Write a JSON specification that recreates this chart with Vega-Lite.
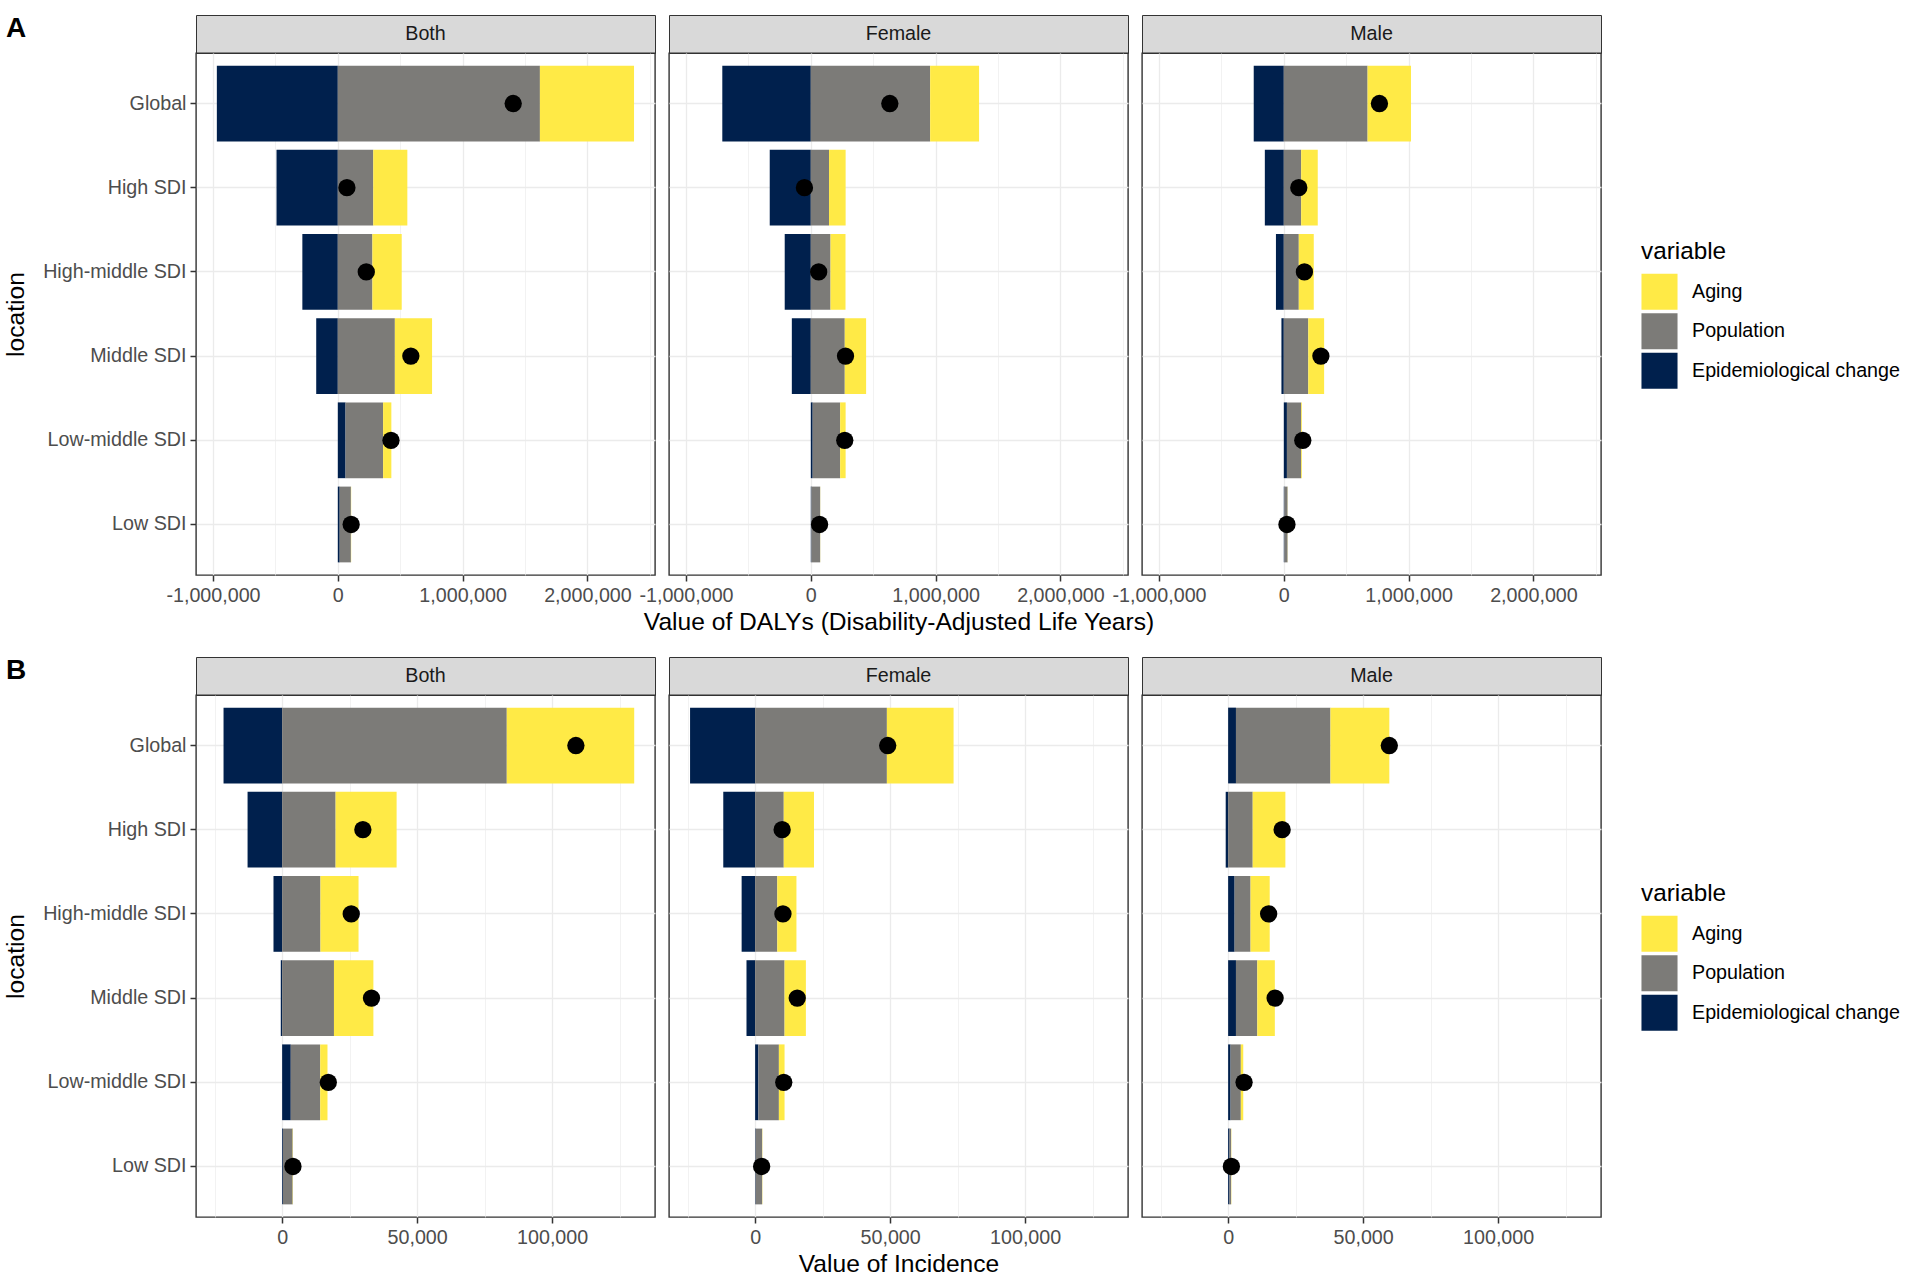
{
  "$schema": "https://vega.github.io/schema/vega-lite/v6.json",
  "padding": {"left": 2, "top": 14, "right": 0, "bottom": 0},
  "background": "white",
  "datasets": {
    "strips": [{"sex": "Both"}, {"sex": "Female"}, {"sex": "Male"}],
    "levels": [
      {"variable": "Epidemiological change", "level": 1},
      {"variable": "Population", "level": 2},
      {"variable": "Aging", "level": 3}
    ],
    "dalys": [
      {"sex": "Both", "location": "Global", "variable": "Epidemiological change", "value": -969000},
      {"sex": "Both", "location": "Global", "variable": "Population", "value": 1619000},
      {"sex": "Both", "location": "Global", "variable": "Aging", "value": 754000},
      {"sex": "Both", "location": "High SDI", "variable": "Epidemiological change", "value": -491000},
      {"sex": "Both", "location": "High SDI", "variable": "Population", "value": 284000},
      {"sex": "Both", "location": "High SDI", "variable": "Aging", "value": 273000},
      {"sex": "Both", "location": "High-middle SDI", "variable": "Epidemiological change", "value": -284000},
      {"sex": "Both", "location": "High-middle SDI", "variable": "Population", "value": 277000},
      {"sex": "Both", "location": "High-middle SDI", "variable": "Aging", "value": 235000},
      {"sex": "Both", "location": "Middle SDI", "variable": "Epidemiological change", "value": -173000},
      {"sex": "Both", "location": "Middle SDI", "variable": "Population", "value": 457000},
      {"sex": "Both", "location": "Middle SDI", "variable": "Aging", "value": 298000},
      {"sex": "Both", "location": "Low-middle SDI", "variable": "Epidemiological change", "value": 62000},
      {"sex": "Both", "location": "Low-middle SDI", "variable": "Population", "value": 301000},
      {"sex": "Both", "location": "Low-middle SDI", "variable": "Aging", "value": 66000},
      {"sex": "Both", "location": "Low SDI", "variable": "Epidemiological change", "value": 15000},
      {"sex": "Both", "location": "Low SDI", "variable": "Population", "value": 90000},
      {"sex": "Both", "location": "Low SDI", "variable": "Aging", "value": 2000},
      {"sex": "Female", "location": "Global", "variable": "Epidemiological change", "value": -709000},
      {"sex": "Female", "location": "Global", "variable": "Population", "value": 956000},
      {"sex": "Female", "location": "Global", "variable": "Aging", "value": 392000},
      {"sex": "Female", "location": "High SDI", "variable": "Epidemiological change", "value": -329000},
      {"sex": "Female", "location": "High SDI", "variable": "Population", "value": 146000},
      {"sex": "Female", "location": "High SDI", "variable": "Aging", "value": 133000},
      {"sex": "Female", "location": "High-middle SDI", "variable": "Epidemiological change", "value": -209000},
      {"sex": "Female", "location": "High-middle SDI", "variable": "Population", "value": 158000},
      {"sex": "Female", "location": "High-middle SDI", "variable": "Aging", "value": 120000},
      {"sex": "Female", "location": "Middle SDI", "variable": "Epidemiological change", "value": -152000},
      {"sex": "Female", "location": "Middle SDI", "variable": "Population", "value": 272000},
      {"sex": "Female", "location": "Middle SDI", "variable": "Aging", "value": 171000},
      {"sex": "Female", "location": "Low-middle SDI", "variable": "Epidemiological change", "value": 15000},
      {"sex": "Female", "location": "Low-middle SDI", "variable": "Population", "value": 220000},
      {"sex": "Female", "location": "Low-middle SDI", "variable": "Aging", "value": 44000},
      {"sex": "Female", "location": "Low SDI", "variable": "Epidemiological change", "value": 5000},
      {"sex": "Female", "location": "Low SDI", "variable": "Population", "value": 70000},
      {"sex": "Female", "location": "Low SDI", "variable": "Aging", "value": 1000},
      {"sex": "Male", "location": "Global", "variable": "Epidemiological change", "value": -241000},
      {"sex": "Male", "location": "Global", "variable": "Population", "value": 671000},
      {"sex": "Male", "location": "Global", "variable": "Aging", "value": 348000},
      {"sex": "Male", "location": "High SDI", "variable": "Epidemiological change", "value": -152000},
      {"sex": "Male", "location": "High SDI", "variable": "Population", "value": 139000},
      {"sex": "Male", "location": "High SDI", "variable": "Aging", "value": 133000},
      {"sex": "Male", "location": "High-middle SDI", "variable": "Epidemiological change", "value": -63000},
      {"sex": "Male", "location": "High-middle SDI", "variable": "Population", "value": 120000},
      {"sex": "Male", "location": "High-middle SDI", "variable": "Aging", "value": 120000},
      {"sex": "Male", "location": "Middle SDI", "variable": "Epidemiological change", "value": -19000},
      {"sex": "Male", "location": "Middle SDI", "variable": "Population", "value": 196000},
      {"sex": "Male", "location": "Middle SDI", "variable": "Aging", "value": 127000},
      {"sex": "Male", "location": "Low-middle SDI", "variable": "Epidemiological change", "value": 25000},
      {"sex": "Male", "location": "Low-middle SDI", "variable": "Population", "value": 114000},
      {"sex": "Male", "location": "Low-middle SDI", "variable": "Aging", "value": 6000},
      {"sex": "Male", "location": "Low SDI", "variable": "Epidemiological change", "value": 5000},
      {"sex": "Male", "location": "Low SDI", "variable": "Population", "value": 25000},
      {"sex": "Male", "location": "Low SDI", "variable": "Aging", "value": 1000}
    ],
    "dalys_total": [
      {"sex": "Both", "location": "Global", "total": 1405000},
      {"sex": "Both", "location": "High SDI", "total": 73000},
      {"sex": "Both", "location": "High-middle SDI", "total": 228000},
      {"sex": "Both", "location": "Middle SDI", "total": 585000},
      {"sex": "Both", "location": "Low-middle SDI", "total": 426000},
      {"sex": "Both", "location": "Low SDI", "total": 107000},
      {"sex": "Female", "location": "Global", "total": 633000},
      {"sex": "Female", "location": "High SDI", "total": -51000},
      {"sex": "Female", "location": "High-middle SDI", "total": 63000},
      {"sex": "Female", "location": "Middle SDI", "total": 278000},
      {"sex": "Female", "location": "Low-middle SDI", "total": 272000},
      {"sex": "Female", "location": "Low SDI", "total": 70000},
      {"sex": "Male", "location": "Global", "total": 766000},
      {"sex": "Male", "location": "High SDI", "total": 120000},
      {"sex": "Male", "location": "High-middle SDI", "total": 165000},
      {"sex": "Male", "location": "Middle SDI", "total": 297000},
      {"sex": "Male", "location": "Low-middle SDI", "total": 152000},
      {"sex": "Male", "location": "Low SDI", "total": 25000}
    ],
    "inc": [
      {"sex": "Both", "location": "Global", "variable": "Epidemiological change", "value": -21700},
      {"sex": "Both", "location": "Global", "variable": "Population", "value": 83200},
      {"sex": "Both", "location": "Global", "variable": "Aging", "value": 47200},
      {"sex": "Both", "location": "High SDI", "variable": "Epidemiological change", "value": -12800},
      {"sex": "Both", "location": "High SDI", "variable": "Population", "value": 19800},
      {"sex": "Both", "location": "High SDI", "variable": "Aging", "value": 22600},
      {"sex": "Both", "location": "High-middle SDI", "variable": "Epidemiological change", "value": -3200},
      {"sex": "Both", "location": "High-middle SDI", "variable": "Population", "value": 14200},
      {"sex": "Both", "location": "High-middle SDI", "variable": "Aging", "value": 14100},
      {"sex": "Both", "location": "Middle SDI", "variable": "Epidemiological change", "value": -500},
      {"sex": "Both", "location": "Middle SDI", "variable": "Population", "value": 19200},
      {"sex": "Both", "location": "Middle SDI", "variable": "Aging", "value": 14600},
      {"sex": "Both", "location": "Low-middle SDI", "variable": "Epidemiological change", "value": 3200},
      {"sex": "Both", "location": "Low-middle SDI", "variable": "Population", "value": 10900},
      {"sex": "Both", "location": "Low-middle SDI", "variable": "Aging", "value": 2700},
      {"sex": "Both", "location": "Low SDI", "variable": "Epidemiological change", "value": 300},
      {"sex": "Both", "location": "Low SDI", "variable": "Population", "value": 3600},
      {"sex": "Both", "location": "Low SDI", "variable": "Aging", "value": 100},
      {"sex": "Female", "location": "Global", "variable": "Epidemiological change", "value": -24100},
      {"sex": "Female", "location": "Global", "variable": "Population", "value": 48800},
      {"sex": "Female", "location": "Global", "variable": "Aging", "value": 24700},
      {"sex": "Female", "location": "High SDI", "variable": "Epidemiological change", "value": -11800},
      {"sex": "Female", "location": "High SDI", "variable": "Population", "value": 10600},
      {"sex": "Female", "location": "High SDI", "variable": "Aging", "value": 11200},
      {"sex": "Female", "location": "High-middle SDI", "variable": "Epidemiological change", "value": -5000},
      {"sex": "Female", "location": "High-middle SDI", "variable": "Population", "value": 8200},
      {"sex": "Female", "location": "High-middle SDI", "variable": "Aging", "value": 7100},
      {"sex": "Female", "location": "Middle SDI", "variable": "Epidemiological change", "value": -3200},
      {"sex": "Female", "location": "Middle SDI", "variable": "Population", "value": 10900},
      {"sex": "Female", "location": "Middle SDI", "variable": "Aging", "value": 7900},
      {"sex": "Female", "location": "Low-middle SDI", "variable": "Epidemiological change", "value": 1200},
      {"sex": "Female", "location": "Low-middle SDI", "variable": "Population", "value": 7600},
      {"sex": "Female", "location": "Low-middle SDI", "variable": "Aging", "value": 2100},
      {"sex": "Female", "location": "Low SDI", "variable": "Epidemiological change", "value": 200},
      {"sex": "Female", "location": "Low SDI", "variable": "Population", "value": 2400},
      {"sex": "Female", "location": "Low SDI", "variable": "Aging", "value": 100},
      {"sex": "Male", "location": "Global", "variable": "Epidemiological change", "value": 2900},
      {"sex": "Male", "location": "Global", "variable": "Population", "value": 35000},
      {"sex": "Male", "location": "Global", "variable": "Aging", "value": 21800},
      {"sex": "Male", "location": "High SDI", "variable": "Epidemiological change", "value": -900},
      {"sex": "Male", "location": "High SDI", "variable": "Population", "value": 9100},
      {"sex": "Male", "location": "High SDI", "variable": "Aging", "value": 12100},
      {"sex": "Male", "location": "High-middle SDI", "variable": "Epidemiological change", "value": 2400},
      {"sex": "Male", "location": "High-middle SDI", "variable": "Population", "value": 5900},
      {"sex": "Male", "location": "High-middle SDI", "variable": "Aging", "value": 7100},
      {"sex": "Male", "location": "Middle SDI", "variable": "Epidemiological change", "value": 2900},
      {"sex": "Male", "location": "Middle SDI", "variable": "Population", "value": 7900},
      {"sex": "Male", "location": "Middle SDI", "variable": "Aging", "value": 6500},
      {"sex": "Male", "location": "Low-middle SDI", "variable": "Epidemiological change", "value": 900},
      {"sex": "Male", "location": "Low-middle SDI", "variable": "Population", "value": 3800},
      {"sex": "Male", "location": "Low-middle SDI", "variable": "Aging", "value": 900},
      {"sex": "Male", "location": "Low SDI", "variable": "Epidemiological change", "value": 500},
      {"sex": "Male", "location": "Low SDI", "variable": "Population", "value": 600},
      {"sex": "Male", "location": "Low SDI", "variable": "Aging", "value": 100}
    ],
    "inc_total": [
      {"sex": "Both", "location": "Global", "total": 108800},
      {"sex": "Both", "location": "High SDI", "total": 29900},
      {"sex": "Both", "location": "High-middle SDI", "total": 25600},
      {"sex": "Both", "location": "Middle SDI", "total": 33100},
      {"sex": "Both", "location": "Low-middle SDI", "total": 17100},
      {"sex": "Both", "location": "Low SDI", "total": 4000},
      {"sex": "Female", "location": "Global", "total": 49100},
      {"sex": "Female", "location": "High SDI", "total": 10000},
      {"sex": "Female", "location": "High-middle SDI", "total": 10300},
      {"sex": "Female", "location": "Middle SDI", "total": 15600},
      {"sex": "Female", "location": "Low-middle SDI", "total": 10600},
      {"sex": "Female", "location": "Low SDI", "total": 2400},
      {"sex": "Male", "location": "Global", "total": 59700},
      {"sex": "Male", "location": "High SDI", "total": 20000},
      {"sex": "Male", "location": "High-middle SDI", "total": 15000},
      {"sex": "Male", "location": "Middle SDI", "total": 17400},
      {"sex": "Male", "location": "Low-middle SDI", "total": 5900},
      {"sex": "Male", "location": "Low SDI", "total": 1200}
    ]
  },
  "spacing": 21,
  "resolve": {"scale": {"x": "independent", "y": "independent", "color": "independent"}},
  "vconcat": [
    {
      "title": {"text": "A", "anchor": "start", "frame": "bounds", "fontSize": 28, "fontWeight": "bold", "color": "#000000", "offset": -28, "dx": 3},
      "columns": 3,
      "spacing": {"row": 0, "column": 14},
      "bounds": "flush",
      "resolve": {"scale": {"color": "independent"}},
      "concat": [
        {"width": 459, "height": 38, "view": {"fill": "#D9D9D9", "stroke": "#333333"}, "data": {"name": "strips"}, "transform": [{"filter": "datum.sex === 'Both'"}], "mark": {"type": "text", "fontSize": 19.7, "color": "#1A1A1A"}, "encoding": {"text": {"field": "sex", "type": "nominal"}}},
        {"width": 459, "height": 38, "view": {"fill": "#D9D9D9", "stroke": "#333333"}, "data": {"name": "strips"}, "transform": [{"filter": "datum.sex === 'Female'"}], "mark": {"type": "text", "fontSize": 19.7, "color": "#1A1A1A"}, "encoding": {"text": {"field": "sex", "type": "nominal"}}},
        {"width": 459, "height": 38, "view": {"fill": "#D9D9D9", "stroke": "#333333"}, "data": {"name": "strips"}, "transform": [{"filter": "datum.sex === 'Male'"}], "mark": {"type": "text", "fontSize": 19.7, "color": "#1A1A1A"}, "encoding": {"text": {"field": "sex", "type": "nominal"}}},
        {
          "width": 459, "height": 522,
          "encoding": {"y": {"field": "location", "type": "nominal", "sort": ["Global", "High SDI", "High-middle SDI", "Middle SDI", "Low-middle SDI", "Low SDI"], "scale": {"paddingInner": 0.1, "paddingOuter": 0.15}, "axis": {"title": "location", "titlePadding": 14, "labelPadding": 4, "tickSize": 6, "grid": true, "bandPosition": 0.5}}},
          "layer": [
            {"data": {"name": "dalys"}, "transform": [{"filter": "datum.sex === 'Both'"}, {"lookup": "variable", "from": {"data": {"name": "levels"}, "key": "variable", "fields": ["level"]}}], "mark": {"type": "bar"},
              "encoding": {
                "x": {"field": "value", "type": "quantitative", "scale": {"domain": [-1136000, 2541000], "nice": false, "zero": false}, "axis": {"values": [-1000000, 0, 1000000, 2000000], "format": ",d", "labelExpr": "replace(datum.label, '−', '-')", "title": null, "grid": true, "labelFlush": false, "labelOverlap": false}},
                "color": {"field": "variable", "type": "nominal", "sort": ["Aging", "Population", "Epidemiological change"], "scale": {"domain": ["Aging", "Population", "Epidemiological change"], "range": ["#FFEA46", "#7C7B78", "#00204D"]}, "legend": null},
                "order": {"field": "level", "type": "quantitative", "sort": "ascending"}
              }},
            {"data": {"name": "dalys_total"}, "transform": [{"filter": "datum.sex === 'Both'"}], "mark": {"type": "circle", "size": 300, "color": "#000000", "opacity": 1},
              "encoding": {"x": {"field": "total", "type": "quantitative", "axis": {"orient": "top", "values": [-500000, 500000, 1500000, 2500000], "labels": false, "ticks": false, "grid": true, "gridWidth": 0.65, "title": null}}}}
          ],
          "resolve": {"axis": {"x": "independent"}}
        },
        {
          "width": 459, "height": 522,
          "encoding": {"y": {"field": "location", "type": "nominal", "sort": ["Global", "High SDI", "High-middle SDI", "Middle SDI", "Low-middle SDI", "Low SDI"], "scale": {"paddingInner": 0.1, "paddingOuter": 0.15}, "axis": {"title": null, "labels": false, "ticks": false, "grid": true, "bandPosition": 0.5}}},
          "layer": [
            {"data": {"name": "dalys"}, "transform": [{"filter": "datum.sex === 'Female'"}, {"lookup": "variable", "from": {"data": {"name": "levels"}, "key": "variable", "fields": ["level"]}}], "mark": {"type": "bar"},
              "encoding": {
                "x": {"field": "value", "type": "quantitative", "scale": {"domain": [-1136000, 2541000], "nice": false, "zero": false}, "axis": {"values": [-1000000, 0, 1000000, 2000000], "format": ",d", "labelExpr": "replace(datum.label, '−', '-')", "title": "Value of DALYs (Disability-Adjusted Life Years)", "titlePadding": 6, "grid": true, "labelFlush": false, "labelOverlap": false}},
                "color": {"field": "variable", "type": "nominal", "sort": ["Aging", "Population", "Epidemiological change"], "scale": {"domain": ["Aging", "Population", "Epidemiological change"], "range": ["#FFEA46", "#7C7B78", "#00204D"]}, "legend": null},
                "order": {"field": "level", "type": "quantitative", "sort": "ascending"}
              }},
            {"data": {"name": "dalys_total"}, "transform": [{"filter": "datum.sex === 'Female'"}], "mark": {"type": "circle", "size": 300, "color": "#000000", "opacity": 1},
              "encoding": {"x": {"field": "total", "type": "quantitative", "axis": {"orient": "top", "values": [-500000, 500000, 1500000, 2500000], "labels": false, "ticks": false, "grid": true, "gridWidth": 0.65, "title": null}}}}
          ],
          "resolve": {"axis": {"x": "independent"}}
        },
        {
          "width": 459, "height": 522,
          "encoding": {"y": {"field": "location", "type": "nominal", "sort": ["Global", "High SDI", "High-middle SDI", "Middle SDI", "Low-middle SDI", "Low SDI"], "scale": {"paddingInner": 0.1, "paddingOuter": 0.15}, "axis": {"title": null, "labels": false, "ticks": false, "grid": true, "bandPosition": 0.5}}},
          "layer": [
            {"data": {"name": "dalys"}, "transform": [{"filter": "datum.sex === 'Male'"}, {"lookup": "variable", "from": {"data": {"name": "levels"}, "key": "variable", "fields": ["level"]}}], "mark": {"type": "bar"},
              "encoding": {
                "x": {"field": "value", "type": "quantitative", "scale": {"domain": [-1136000, 2541000], "nice": false, "zero": false}, "axis": {"values": [-1000000, 0, 1000000, 2000000], "format": ",d", "labelExpr": "replace(datum.label, '−', '-')", "title": null, "grid": true, "labelFlush": false, "labelOverlap": false}},
                "color": {"field": "variable", "type": "nominal", "sort": ["Aging", "Population", "Epidemiological change"], "scale": {"domain": ["Aging", "Population", "Epidemiological change"], "range": ["#FFEA46", "#7C7B78", "#00204D"]}, "legend": {"title": "variable", "orient": "right", "symbolType": "square", "labelLimit": 400}},
                "order": {"field": "level", "type": "quantitative", "sort": "ascending"}
              }},
            {"data": {"name": "dalys_total"}, "transform": [{"filter": "datum.sex === 'Male'"}], "mark": {"type": "circle", "size": 300, "color": "#000000", "opacity": 1},
              "encoding": {"x": {"field": "total", "type": "quantitative", "axis": {"orient": "top", "values": [-500000, 500000, 1500000, 2500000], "labels": false, "ticks": false, "grid": true, "gridWidth": 0.65, "title": null}}}}
          ],
          "resolve": {"axis": {"x": "independent"}}
        }
      ]
    },
    {
      "title": {"text": "B", "anchor": "start", "frame": "bounds", "fontSize": 28, "fontWeight": "bold", "color": "#000000", "offset": -28, "dx": 3},
      "columns": 3,
      "spacing": {"row": 0, "column": 14},
      "bounds": "flush",
      "resolve": {"scale": {"color": "independent"}},
      "concat": [
        {"width": 459, "height": 38, "view": {"fill": "#D9D9D9", "stroke": "#333333"}, "data": {"name": "strips"}, "transform": [{"filter": "datum.sex === 'Both'"}], "mark": {"type": "text", "fontSize": 19.7, "color": "#1A1A1A"}, "encoding": {"text": {"field": "sex", "type": "nominal"}}},
        {"width": 459, "height": 38, "view": {"fill": "#D9D9D9", "stroke": "#333333"}, "data": {"name": "strips"}, "transform": [{"filter": "datum.sex === 'Female'"}], "mark": {"type": "text", "fontSize": 19.7, "color": "#1A1A1A"}, "encoding": {"text": {"field": "sex", "type": "nominal"}}},
        {"width": 459, "height": 38, "view": {"fill": "#D9D9D9", "stroke": "#333333"}, "data": {"name": "strips"}, "transform": [{"filter": "datum.sex === 'Male'"}], "mark": {"type": "text", "fontSize": 19.7, "color": "#1A1A1A"}, "encoding": {"text": {"field": "sex", "type": "nominal"}}},
        {
          "width": 459, "height": 522,
          "encoding": {"y": {"field": "location", "type": "nominal", "sort": ["Global", "High SDI", "High-middle SDI", "Middle SDI", "Low-middle SDI", "Low SDI"], "scale": {"paddingInner": 0.1, "paddingOuter": 0.15}, "axis": {"title": "location", "titlePadding": 14, "labelPadding": 4, "tickSize": 6, "grid": true, "bandPosition": 0.5}}},
          "layer": [
            {"data": {"name": "inc"}, "transform": [{"filter": "datum.sex === 'Both'"}, {"lookup": "variable", "from": {"data": {"name": "levels"}, "key": "variable", "fields": ["level"]}}], "mark": {"type": "bar"},
              "encoding": {
                "x": {"field": "value", "type": "quantitative", "scale": {"domain": [-31900, 138100], "nice": false, "zero": false}, "axis": {"values": [0, 50000, 100000], "format": ",d", "labelExpr": "replace(datum.label, '−', '-')", "title": null, "grid": true, "labelFlush": false, "labelOverlap": false}},
                "color": {"field": "variable", "type": "nominal", "sort": ["Aging", "Population", "Epidemiological change"], "scale": {"domain": ["Aging", "Population", "Epidemiological change"], "range": ["#FFEA46", "#7C7B78", "#00204D"]}, "legend": null},
                "order": {"field": "level", "type": "quantitative", "sort": "ascending"}
              }},
            {"data": {"name": "inc_total"}, "transform": [{"filter": "datum.sex === 'Both'"}], "mark": {"type": "circle", "size": 300, "color": "#000000", "opacity": 1},
              "encoding": {"x": {"field": "total", "type": "quantitative", "axis": {"orient": "top", "values": [-25000, 25000, 75000, 125000], "labels": false, "ticks": false, "grid": true, "gridWidth": 0.65, "title": null}}}}
          ],
          "resolve": {"axis": {"x": "independent"}}
        },
        {
          "width": 459, "height": 522,
          "encoding": {"y": {"field": "location", "type": "nominal", "sort": ["Global", "High SDI", "High-middle SDI", "Middle SDI", "Low-middle SDI", "Low SDI"], "scale": {"paddingInner": 0.1, "paddingOuter": 0.15}, "axis": {"title": null, "labels": false, "ticks": false, "grid": true, "bandPosition": 0.5}}},
          "layer": [
            {"data": {"name": "inc"}, "transform": [{"filter": "datum.sex === 'Female'"}, {"lookup": "variable", "from": {"data": {"name": "levels"}, "key": "variable", "fields": ["level"]}}], "mark": {"type": "bar"},
              "encoding": {
                "x": {"field": "value", "type": "quantitative", "scale": {"domain": [-31900, 138100], "nice": false, "zero": false}, "axis": {"values": [0, 50000, 100000], "format": ",d", "labelExpr": "replace(datum.label, '−', '-')", "title": "Value of Incidence", "titlePadding": 6, "grid": true, "labelFlush": false, "labelOverlap": false}},
                "color": {"field": "variable", "type": "nominal", "sort": ["Aging", "Population", "Epidemiological change"], "scale": {"domain": ["Aging", "Population", "Epidemiological change"], "range": ["#FFEA46", "#7C7B78", "#00204D"]}, "legend": null},
                "order": {"field": "level", "type": "quantitative", "sort": "ascending"}
              }},
            {"data": {"name": "inc_total"}, "transform": [{"filter": "datum.sex === 'Female'"}], "mark": {"type": "circle", "size": 300, "color": "#000000", "opacity": 1},
              "encoding": {"x": {"field": "total", "type": "quantitative", "axis": {"orient": "top", "values": [-25000, 25000, 75000, 125000], "labels": false, "ticks": false, "grid": true, "gridWidth": 0.65, "title": null}}}}
          ],
          "resolve": {"axis": {"x": "independent"}}
        },
        {
          "width": 459, "height": 522,
          "encoding": {"y": {"field": "location", "type": "nominal", "sort": ["Global", "High SDI", "High-middle SDI", "Middle SDI", "Low-middle SDI", "Low SDI"], "scale": {"paddingInner": 0.1, "paddingOuter": 0.15}, "axis": {"title": null, "labels": false, "ticks": false, "grid": true, "bandPosition": 0.5}}},
          "layer": [
            {"data": {"name": "inc"}, "transform": [{"filter": "datum.sex === 'Male'"}, {"lookup": "variable", "from": {"data": {"name": "levels"}, "key": "variable", "fields": ["level"]}}], "mark": {"type": "bar"},
              "encoding": {
                "x": {"field": "value", "type": "quantitative", "scale": {"domain": [-31900, 138100], "nice": false, "zero": false}, "axis": {"values": [0, 50000, 100000], "format": ",d", "labelExpr": "replace(datum.label, '−', '-')", "title": null, "grid": true, "labelFlush": false, "labelOverlap": false}},
                "color": {"field": "variable", "type": "nominal", "sort": ["Aging", "Population", "Epidemiological change"], "scale": {"domain": ["Aging", "Population", "Epidemiological change"], "range": ["#FFEA46", "#7C7B78", "#00204D"]}, "legend": {"title": "variable", "orient": "right", "symbolType": "square", "labelLimit": 400}},
                "order": {"field": "level", "type": "quantitative", "sort": "ascending"}
              }},
            {"data": {"name": "inc_total"}, "transform": [{"filter": "datum.sex === 'Male'"}], "mark": {"type": "circle", "size": 300, "color": "#000000", "opacity": 1},
              "encoding": {"x": {"field": "total", "type": "quantitative", "axis": {"orient": "top", "values": [-25000, 25000, 75000, 125000], "labels": false, "ticks": false, "grid": true, "gridWidth": 0.65, "title": null}}}}
          ],
          "resolve": {"axis": {"x": "independent"}}
        }
      ]
    }
  ],
  "config": {
    "font": "Liberation Sans",
    "view": {"stroke": "#333333", "strokeWidth": 1.4},
    "axis": {"labelFont": "Liberation Sans", "labelFontSize": 19.7, "labelColor": "#4D4D4D", "titleFont": "Liberation Sans", "titleFontSize": 24.6, "titleFontWeight": "normal", "titleColor": "#000000", "tickColor": "#333333", "tickWidth": 1.5, "tickSize": 6, "labelPadding": 4, "domain": false, "gridColor": "#EBEBEB", "gridWidth": 1.3},
    "legend": {"titleFontSize": 24.3, "titleFontWeight": "normal", "titleColor": "#000000", "titlePadding": 9, "labelFontSize": 19.7, "labelColor": "#000000", "labelOffset": 14, "labelLimit": 400, "symbolType": "square", "symbolSize": 1300, "symbolStrokeWidth": 0, "symbolOpacity": 1, "rowPadding": 2.5, "padding": 0, "offset": 40, "layout": {"right": {"anchor": "middle", "bounds": "flush"}}},
    "title": {"font": "Liberation Sans"}
  }
}
